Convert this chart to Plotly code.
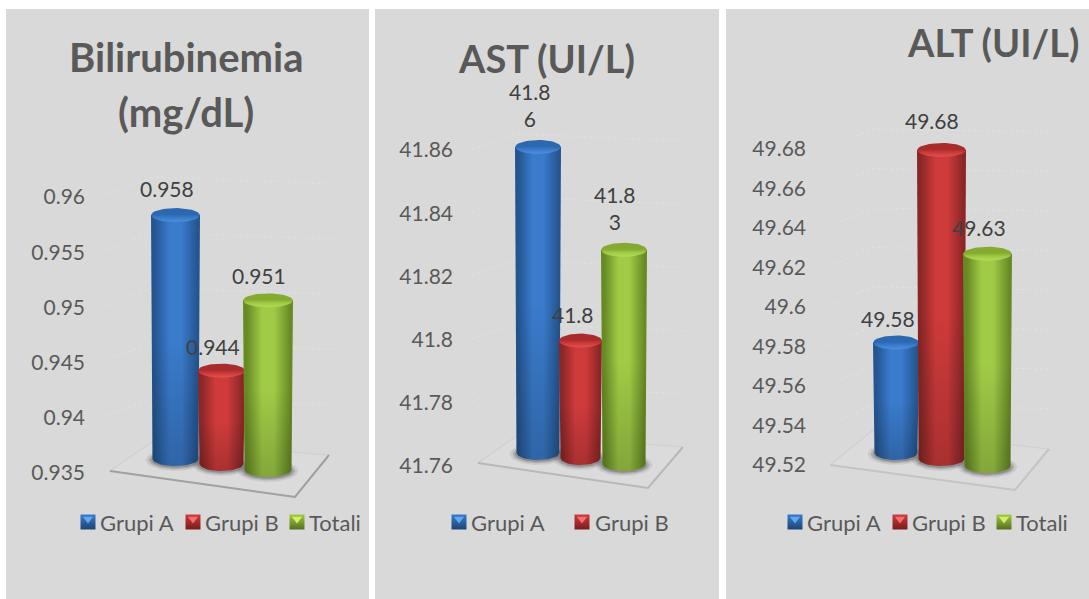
import plotly.graph_objects as go

WIDTH, HEIGHT = 1089, 599
PANEL_TOP = 9

# Chart values
series_names = ["Grupi A", "Grupi B", "Totali"]

bili_values = [0.958, 0.944, 0.951]
bili_labels = ["0.958", "0.944", "0.951"]
bili_ticks = [0.935, 0.94, 0.945, 0.95, 0.955, 0.96]
bili_ticktext = ["0.935", "0.94", "0.945", "0.95", "0.955", "0.96"]

ast_values = [41.86, 41.8, 41.83]
ast_labels = ["41.8<br>6", "41.8", "41.8<br>3"]
ast_ticks = [41.76, 41.78, 41.8, 41.82, 41.84, 41.86]
ast_ticktext = ["41.76", "41.78", "41.8", "41.82", "41.84", "41.86"]

alt_values = [49.58, 49.68, 49.63]
alt_labels = ["49.58", "49.68", "49.63"]
alt_ticks = [49.52, 49.54, 49.56, 49.58, 49.6, 49.62, 49.64, 49.66, 49.68]
alt_ticktext = ["49.52", "49.54", "49.56", "49.58", "49.6", "49.62", "49.64", "49.66", "49.68"]

# Cylinder shading per series: edge, centre, cap top, cap rim, swatch highlight
palette = [
    dict(edge="#24558f", mid="#3a7bcc", cap="#2c68b0", rim="#4f8fdc", hi="#5fa8ee", dark="#1d4474"),
    dict(edge="#8a2626", mid="#cf3b3b", cap="#a82c2c", rim="#de5450", hi="#f0706c", dark="#7a1c1c"),
    dict(edge="#668a24", mid="#a0cb46", cap="#84aa30", rim="#b6da58", hi="#d6ee66", dark="#55701f"),
]

panels = [
    dict(left=6, right=369, cal=(0.96, 197, 0.935, 473), values=bili_values, labels=bili_labels,
         ticks=bili_ticks, ticktext=bili_ticktext, axis_x=85,
         cx=[175.5, 221.5, 268], half=[24.5, 23.5, 25], base_px=[459, 464, 470], top_shift=[-4, -3, 4],
         label_x=[167, 213, 259], label_lift=[31, 27, 21],
         grid_x=(105, 153, 333), grid_dy=(-2, -20, -13),
         floor=[(110, 471), (295, 497), (329, 455), (153, 441)], floor_front="#a0a0a0",
         legend_sw=[88, 193, 297], legend_tx=[98, 203, 307], shown=3),
    dict(left=375, right=719, cal=(41.86, 150, 41.76, 466), values=ast_values, labels=ast_labels,
         ticks=ast_ticks, ticktext=ast_ticktext, axis_x=453,
         cx=[538, 580.5, 624], half=[23, 21.5, 23], base_px=[453, 458, 464], top_shift=[-3, 1, 5],
         label_x=[530, 573, 615], label_lift=[45, 25, 37],
         grid_x=(472, 515, 686), grid_dy=(-1, -16, -9),
         floor=[(478, 463), (648, 488), (683, 447), (518, 435)], floor_front="#b8b8b8",
         legend_sw=[459, 582], legend_tx=[469, 593], shown=2),
    dict(left=726, right=1089, cal=(49.68, 149, 49.52, 465), values=alt_values, labels=alt_labels,
         ticks=alt_ticks, ticktext=alt_ticktext, axis_x=806,
         cx=[896, 941.5, 987.5], half=[23, 24.5, 24.5], base_px=[453, 459, 466], top_shift=[-4, 1, 6],
         label_x=[888, 932, 979], label_lift=[28, 29, 20],
         grid_x=(828, 872, 1050), grid_dy=(-1, -20, -17),
         floor=[(830, 465), (1015, 490), (1049, 449), (873, 430)], floor_front="#c4c4c4",
         legend_sw=[795, 900, 1004], legend_tx=[805, 910, 1014], shown=3),
]

titles = [
    ("Bilirubinemia", 186, 57, 40), ("(mg/dL)", 186, 112, 40),
    ("AST (UI/L)", 546, 58, 38), ("ALT (UI/L)", 993, 42, 38),
]

FONT = "Lato"
TEXT_GREY = "#595959"
LABEL_GREY = "#404040"
RY = 7  # vertical semi-axis of the cylinder ends

# Parametric half-circle samples, used to trace the elliptical ends
N_ARC = 24
ARC = [(i / N_ARC) * 2 - 1 for i in range(N_ARC + 1)]


def ellipse_points(cx, cy, rx, ry):
    xs, ys = [], []
    for t in ARC + ARC[-2::-1]:
        xs.append(cx + rx * t)
    lower = [(1 - t * t) ** 0.5 for t in ARC]
    upper = [-v for v in lower[-2::-1]]
    for v in lower + upper:
        ys.append(cy + ry * v)
    return xs, ys


fig = go.Figure()
layout = dict(
    width=WIDTH, height=HEIGHT, autosize=False,
    margin=dict(l=0, r=0, t=0, b=0, pad=0),
    paper_bgcolor="white", plot_bgcolor="#d9d9d9",
    showlegend=False, hovermode=False,
)
annotations = []

for idx, p in enumerate(panels):
    suffix = "" if idx == 0 else str(idx + 1)
    xref, yref = "x" + suffix, "y" + suffix

    # Linear value scale from two calibrated ticks
    v1, y1, v2, y2 = p["cal"]
    per_px = (v1 - v2) / (y2 - y1)
    to_val = lambda px, v1=v1, y1=y1, per_px=per_px: v1 + (y1 - px) * per_px

    layout["xaxis" + suffix] = dict(
        domain=[p["left"] / WIDTH, p["right"] / WIDTH], range=[p["left"], p["right"]],
        visible=False, fixedrange=True, anchor=yref,
    )
    layout["yaxis" + suffix] = dict(
        domain=[0, 1 - PANEL_TOP / HEIGHT], range=[to_val(HEIGHT), to_val(PANEL_TOP)],
        tickmode="array", tickvals=p["ticks"], ticktext=p["ticktext"],
        tickfont=dict(family=FONT, size=21, color=TEXT_GREY),
        showgrid=False, zeroline=False, showline=False, ticks="",
        anchor="free", position=p["axis_x"] / WIDTH, overlaying=None, fixedrange=True,
    )

    def add(xs, ys_px=None, ys=None, **kw):
        fig.add_trace(go.Scatter(
            x=xs, y=ys if ys is not None else [to_val(v) for v in ys_px],
            xaxis=xref, yaxis=yref, hoverinfo="skip", **kw))

    # Faint wall lines behind the cylinders
    gx, gd = p["grid_x"], p["grid_dy"]
    for tick in p["ticks"][1:]:
        tick_px = y1 + (v1 - tick) / per_px
        add(list(gx), [tick_px + d for d in gd], mode="lines",
            line=dict(color="#e1e1e1", width=1, dash="dot"))

    # Floor plate
    fx = [pt[0] for pt in p["floor"]] + [p["floor"][0][0]]
    fy = [pt[1] for pt in p["floor"]] + [p["floor"][0][1]]
    add(fx, fy, mode="lines", fill="toself", fillcolor="rgba(255,255,255,0.06)",
        line=dict(color="#cfcfcf", width=1.2))
    add(fx[:3], fy[:3], mode="lines", line=dict(color=p["floor_front"], width=2))

    for s in range(3):
        c = palette[s]
        cx, rx = p["cx"][s], p["half"][s]
        base_px = p["base_px"][s]
        value = p["values"][s]
        top_px = y1 + (v1 - value) / per_px + p["top_shift"][s]
        base_rx = rx - 1.5

        # Soft contact shadow under the base
        for grow, alpha in ((7, 0.10), (4, 0.18), (1.5, 0.25)):
            sx, sy = ellipse_points(cx, base_px + 1, base_rx + grow, RY + grow * 0.55)
            add(sx, sy, mode="lines", fill="toself",
                fillcolor=f"rgba(50,50,50,{alpha})", line=dict(width=0))

        # Body: straight sides closed by the lower half of the base ellipse
        bx = [cx - rx]
        by = [top_px]
        bx += [cx + base_rx * t for t in ARC]
        by += [base_px + RY * (1 - t * t) ** 0.5 for t in ARC]
        bx += [cx + rx, cx - rx]
        by += [top_px, top_px]
        grad = [[0, c["edge"]], [0.07, c["edge"]], [0.38, c["mid"]], [0.62, c["mid"]], [0.95, c["edge"]], [1, c["edge"]]]
        add(bx, by, mode="lines", fill="toself", line=dict(width=0), name=series_names[s],
            fillgradient=dict(type="horizontal", colorscale=grad))
        # Gentle darkening towards the base
        add(bx, by, mode="lines", fill="toself", line=dict(width=0),
            fillgradient=dict(type="vertical", colorscale=[[0, "rgba(0,0,0,0.18)"], [0.5, "rgba(0,0,0,0)"], [1, "rgba(0,0,0,0)"]]))

        # Top cap with a bright lower rim
        ex, ey = ellipse_points(cx, top_px, rx, RY)
        add(ex, ey, mode="lines", fill="toself", line=dict(width=0),
            fillgradient=dict(type="vertical", colorscale=[[0, c["rim"]], [0.3, c["mid"]], [0.55, c["cap"]], [1, c["cap"]]]))

        # Value label, anchored on the value through the axis
        annotations.append(dict(
            x=p["label_x"][s], y=value, xref=xref, yref=yref, yshift=p["label_lift"][s],
            text=p["labels"][s], showarrow=False, xanchor="center", yanchor="middle",
            font=dict(family=FONT, size=21, color=LABEL_GREY),
        ))

    # Legend row: bevelled swatch and name
    legend_y = 522
    for s in range(p["shown"]):
        c = palette[s]
        sx = p["legend_sw"][s]
        add([sx], [legend_y], mode="markers",
            marker=dict(symbol="square", size=15, color=c["mid"], line=dict(width=0),
                        gradient=dict(type="vertical", color=c["dark"])))
        add([sx], [legend_y - 3], mode="markers",
            marker=dict(symbol="triangle-down", size=9, color=c["hi"], line=dict(width=0)))
        annotations.append(dict(
            x=p["legend_tx"][s] / WIDTH, y=1 - legend_y / HEIGHT, xref="paper", yref="paper",
            text=series_names[s], showarrow=False, xanchor="left", yanchor="middle",
            font=dict(family=FONT, size=22, color=TEXT_GREY),
        ))

for text, x, y, size in titles:
    annotations.append(dict(
        x=x / WIDTH, y=1 - y / HEIGHT, xref="paper", yref="paper", text=f"<b>{text}</b>",
        showarrow=False, xanchor="center", yanchor="middle",
        font=dict(family=FONT, size=size, color=TEXT_GREY),
    ))

layout["annotations"] = annotations
fig.update_layout(**layout)
fig.write_html("out.html", config=dict(displayModeBar=False))
